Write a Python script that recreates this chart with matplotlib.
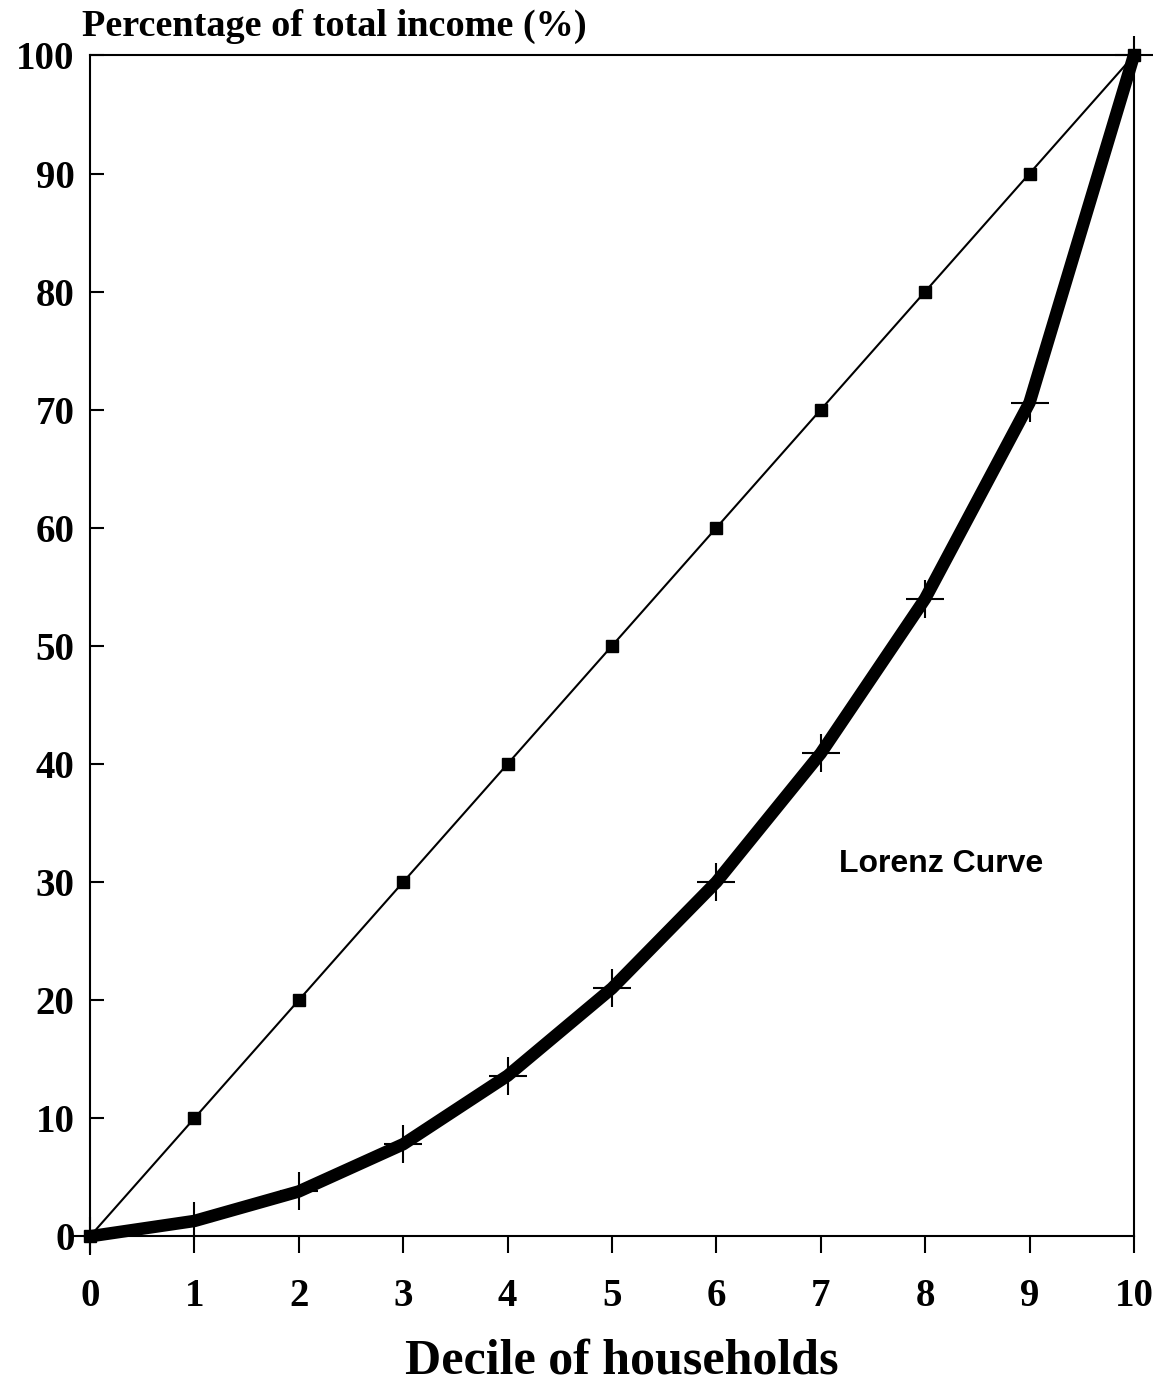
import matplotlib
matplotlib.use("Agg")
import matplotlib.pyplot as plt

deciles = [0, 1, 2, 3, 4, 5, 6, 7, 8, 9, 10]
equality = [0, 10, 20, 30, 40, 50, 60, 70, 80, 90, 100]
lorenz = [0, 1.3, 3.8, 7.8, 13.6, 21, 30, 40.9, 54, 70.6, 100]
xticks = [0, 1, 2, 3, 4, 5, 6, 7, 8, 9, 10]
yticks = [0, 10, 20, 30, 40, 50, 60, 70, 80, 90, 100]

fig = plt.figure(figsize=(11.69, 13.86), dpi=100)
ax = fig.add_axes([0.077, 0.108, 0.893, 0.852])

ax.plot(deciles, equality, color="black", lw=1.5, marker="s", ms=8,
        clip_on=False, zorder=3)
ax.plot(deciles, lorenz, color="black", lw=9, solid_capstyle="round",
        solid_joinstyle="round", clip_on=False, zorder=4)
ax.plot(deciles, lorenz, ls="none", marker="+", ms=28, mew=1.5,
        color="black", clip_on=False, zorder=5)

ax.set_xlim(0, 10)
ax.set_ylim(0, 100)
ax.set_xticks(xticks)
ax.set_yticks(yticks)
serif = "Liberation Serif"
ax.set_xticklabels([str(v) for v in xticks], fontfamily=serif,
                   fontweight="bold", fontsize=28)
ax.set_yticklabels([str(v) for v in yticks], fontfamily=serif,
                   fontweight="bold", fontsize=28)
ax.tick_params(axis="y", direction="in", length=10, width=1.5, pad=11)
ax.tick_params(axis="x", direction="out", length=12, width=1.5, pad=18)
for s in ax.spines.values():
    s.set_linewidth(1.5)

fig.text(0.070, 0.981, "Percentage of total income (%)", fontfamily=serif,
         fontweight="bold", fontsize=27.5, ha="left", va="center")
fig.text(0.532, 0.018, "Decile of households", fontfamily=serif,
         fontweight="bold", fontsize=36, ha="center", va="center")
ax.text(7.17, 31.5, "Lorenz Curve", fontfamily="Liberation Sans",
        fontweight="bold", fontsize=23, ha="left", va="center")

fig.savefig("out.png", dpi=100)
